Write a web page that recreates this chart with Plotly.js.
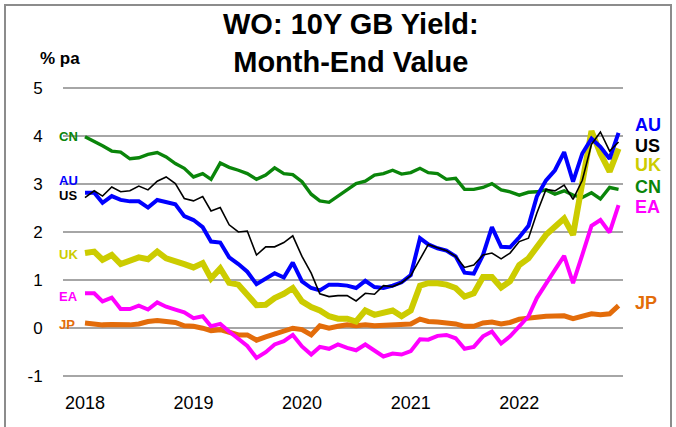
<!DOCTYPE html>
<html>
<head>
<meta charset="utf-8">
<script src="https://cdn.plot.ly/plotly-3.0.1.min.js"></script>
<style>
  html, body { margin: 0; padding: 0; background: #fff; }
  #wrap { position: relative; width: 676px; height: 427px; overflow: hidden; }
  #chart { position: absolute; left: 0; top: 0; width: 676px; height: 427px; }
  #frame { position: absolute; left: 4px; top: 4px; width: 664px; height: 500px;
           border: 2px solid #8c8c8c; pointer-events: none; }
</style>
</head>
<body>
<div id="wrap"><div id="chart"></div><div id="frame"></div></div>
<script>
// Month-end values, Jan 2018 .. Dec 2022 (% pa)
const startYear = 2018, endYear = 2022;
const yearLabels = ['2018', '2019', '2020', '2021', '2022'];

const AU = [2.82,2.82,2.61,2.75,2.67,2.64,2.64,2.51,2.67,2.63,2.58,2.33,
            2.25,2.10,1.80,1.78,1.47,1.33,1.17,0.91,1.02,1.14,1.05,1.36,
            0.97,0.83,0.78,0.90,0.90,0.88,0.83,0.98,0.85,0.83,0.88,0.95,
            1.10,1.87,1.74,1.66,1.61,1.49,1.15,1.13,1.52,2.10,1.69,1.68,
            1.89,2.13,2.74,3.08,3.29,3.67,3.05,3.64,3.95,3.78,3.53,4.07];
const US = [2.72,2.86,2.75,2.94,2.84,2.86,2.96,2.88,3.06,3.15,3.01,2.70,
            2.65,2.74,2.44,2.51,2.15,2.00,2.02,1.52,1.69,1.69,1.78,1.92,
            1.49,1.14,0.71,0.65,0.67,0.67,0.56,0.72,0.70,0.88,0.86,0.94,
            1.09,1.42,1.74,1.67,1.61,1.49,1.26,1.31,1.52,1.56,1.44,1.56,
            1.80,1.87,2.39,2.89,2.86,2.98,2.68,3.08,3.83,4.09,3.69,3.88];
const UK = [1.56,1.59,1.42,1.52,1.33,1.40,1.47,1.43,1.59,1.45,1.40,1.33,
            1.26,1.35,1.03,1.24,0.94,0.90,0.69,0.47,0.48,0.62,0.71,0.83,
            0.55,0.43,0.36,0.24,0.19,0.19,0.13,0.36,0.27,0.31,0.36,0.24,
            0.36,0.88,0.93,0.93,0.90,0.83,0.65,0.72,1.06,1.06,0.84,0.97,
            1.31,1.45,1.67,1.94,2.11,2.28,1.94,2.95,4.11,3.64,3.26,3.74];
const CN = [3.99,3.90,3.80,3.69,3.67,3.53,3.55,3.62,3.66,3.57,3.43,3.33,
            3.15,3.22,3.10,3.44,3.35,3.29,3.22,3.10,3.19,3.34,3.22,3.20,
            3.05,2.79,2.65,2.62,2.75,2.88,3.01,3.06,3.19,3.22,3.29,3.21,
            3.24,3.33,3.24,3.22,3.10,3.12,2.89,2.89,2.93,3.01,2.88,2.84,
            2.77,2.83,2.84,2.88,2.79,2.86,2.77,2.72,2.82,2.69,2.93,2.89];
const EA = [0.72,0.72,0.55,0.63,0.39,0.39,0.46,0.38,0.53,0.44,0.38,0.32,
            0.20,0.24,0.03,0.08,-0.08,-0.22,-0.38,-0.63,-0.51,-0.35,-0.28,-0.15,
            -0.39,-0.56,-0.40,-0.44,-0.35,-0.42,-0.47,-0.35,-0.49,-0.60,-0.54,-0.56,
            -0.49,-0.24,-0.25,-0.17,-0.15,-0.22,-0.44,-0.40,-0.18,-0.08,-0.33,-0.18,
            0.03,0.24,0.62,0.93,1.21,1.50,0.93,1.52,2.13,2.25,1.99,2.56];
const JP = [0.10,0.07,0.06,0.07,0.06,0.06,0.08,0.13,0.15,0.13,0.11,0.04,
            0.03,-0.01,-0.06,-0.04,-0.10,-0.15,-0.15,-0.26,-0.19,-0.13,-0.08,-0.01,
            -0.04,-0.15,0.04,-0.01,0.03,0.06,0.04,0.06,0.04,0.05,0.06,0.05,
            0.08,0.18,0.13,0.12,0.10,0.08,0.03,0.03,0.10,0.12,0.08,0.11,
            0.18,0.21,0.22,0.24,0.24,0.25,0.19,0.25,0.29,0.27,0.29,0.46];

const months = [];
for (let y = startYear; y <= endYear; y++) {
  for (let m = 1; m <= 12; m++) months.push(y + '-' + String(m).padStart(2, '0') + '-01');
}

const col = { AU: '#0000ff', US: '#000000', UK: '#cccc00', CN: '#0a850a', EA: '#ff00ff', JP: '#e36c0a' };
const wid = { AU: 4, US: 1.6, UK: 6, CN: 3.4, EA: 4, JP: 5 };
const series = { CN: CN, JP: JP, EA: EA, UK: UK, AU: AU, US: US };

const traces = Object.keys(series).map(k => ({
  x: months, y: series[k], type: 'scatter', mode: 'lines', name: k,
  line: { color: col[k], width: wid[k], shape: 'linear' },
  hoverinfo: 'x+y+name'
}));

const xL = 63, xR = 623, yT = 86, plotH = 292;
const px = p => (p - xL) / (xR - xL);
const py = p => 1 + (yT - p) / plotH;
const FONT = 'Liberation Sans, Arial, sans-serif';

const leftLabels = [
  { t: 'CN', y: 4.00, c: col.CN }, { t: 'AU', y: 3.08, c: col.AU }, { t: 'US', y: 2.77, c: col.US },
  { t: 'UK', y: 1.54, c: col.UK }, { t: 'EA', y: 0.65, c: col.EA }, { t: 'JP', y: 0.06, c: col.JP }
];
const rightLabels = [
  { t: 'AU', y: 4.23, c: col.AU }, { t: 'US', y: 3.80, c: col.US }, { t: 'UK', y: 3.40, c: col.UK },
  { t: 'CN', y: 2.94, c: col.CN }, { t: 'EA', y: 2.52, c: col.EA }, { t: 'JP', y: 0.51, c: col.JP }
];

const annotations = [];
leftLabels.forEach(l => annotations.push({
  text: '<b>' + l.t + '</b>', xref: 'paper', yref: 'y', x: px(57), y: l.y,
  xanchor: 'left', yanchor: 'middle', showarrow: false,
  font: { family: FONT, size: 13, color: l.c }
}));
rightLabels.forEach(l => annotations.push({
  text: '<b>' + l.t + '</b>', xref: 'paper', yref: 'y', x: px(633), y: l.y,
  xanchor: 'left', yanchor: 'middle', showarrow: false,
  font: { family: FONT, size: 18, color: l.c }
}));
annotations.push({
  text: '<b>% pa</b>', xref: 'paper', yref: 'paper', x: px(38), y: py(59),
  xanchor: 'left', yanchor: 'middle', showarrow: false,
  font: { family: FONT, size: 17, color: '#000' }
});
// chart title (two lines)
annotations.push({
  text: '<b>WO: 10Y GB Yield:<br>Month-End Value</b>', xref: 'paper', yref: 'paper',
  x: px(351), y: py(43), xanchor: 'center', yanchor: 'middle', align: 'center', showarrow: false,
  font: { family: FONT, size: 29, color: '#000' }
});

const layout = {
  width: 676, height: 427,
  margin: { l: xL, r: 676 - xR, t: yT, b: 427 - yT - plotH },
  paper_bgcolor: '#ffffff', plot_bgcolor: '#ffffff',
  showlegend: false,
  font: { family: FONT, color: '#000' },
  xaxis: {
    type: 'date', range: ['2017-10-19', '2022-12-16'],
    tickmode: 'array', tickvals: yearLabels.map(y => y + '-01-01'), ticktext: yearLabels,
    showgrid: false, zeroline: false, showline: false,
    ticks: 'outside', ticklen: 8, tickcolor: 'rgba(0,0,0,0)',
    tickfont: { size: 18, color: '#000' }, fixedrange: true
  },
  yaxis: {
    range: [-1.05, 5.05], tickvals: [-1, 0, 1, 2, 3, 4, 5], ticktext: ['-1', '0', '1', '2', '3', '4', '5'],
    showgrid: true, gridcolor: '#a6a6a6', gridwidth: 2,
    zeroline: false, showline: false,
    ticks: 'outside', ticklen: 16, tickcolor: 'rgba(0,0,0,0)',
    tickfont: { size: 17, color: '#000' }, fixedrange: true
  },
  annotations: annotations
};

Plotly.newPlot('chart', traces, layout, { displayModeBar: false, staticPlot: true });
</script>
</body>
</html>
